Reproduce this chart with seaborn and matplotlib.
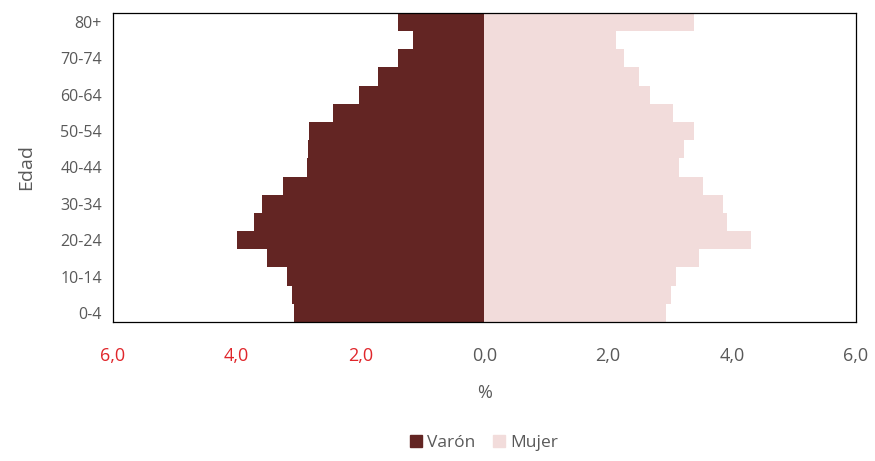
import matplotlib
matplotlib.use('Agg')
import matplotlib.pyplot as plt
import seaborn as sns
import pandas as pd

# Age groups, bottom to top
edades = ['0-4', '5-9', '10-14', '15-19', '20-24', '25-29', '30-34', '35-39',
          '40-44', '45-49', '50-54', '55-59', '60-64', '65-69', '70-74', '75-79', '80+']
varon = [3.08, 3.10, 3.18, 3.51, 3.99, 3.72, 3.59, 3.25,
         2.86, 2.85, 2.83, 2.45, 2.02, 1.71, 1.39, 1.15, 1.39]
mujer = [2.94, 3.02, 3.10, 3.47, 4.31, 3.92, 3.85, 3.54,
         3.15, 3.23, 3.39, 3.05, 2.67, 2.50, 2.26, 2.13, 3.39]
xticks = [-6, -4, -2, 0, 2, 4, 6]

df = pd.DataFrame({
    'Edad': edades * 2,
    'valor': [-v for v in varon] + mujer,
    'Sexo': ['Varón'] * len(edades) + ['Mujer'] * len(edades),
})

sns.set_style('white')
plt.rcParams['font.family'] = ['Open Sans', 'DejaVu Sans']

fig = plt.figure(figsize=(8.75, 4.61), dpi=100)
ax = fig.add_axes([0.129, 0.3015, 0.849, 0.6705])

sns.barplot(data=df, x='valor', y='Edad', hue='Sexo', order=edades[::-1],
            orient='h', dodge=False, width=1.0,
            palette={'Varón': '#632523', 'Mujer': '#F2DCDB'},
            saturation=1, linewidth=0, ax=ax, legend=False)

ax.set_xlim(-6, 6)
ax.set_xticks(xticks)
ax.set_xticklabels([f'{abs(t):.1f}'.replace('.', ',') for t in xticks], fontsize=13)
for lab, t in zip(ax.get_xticklabels(), xticks):
    lab.set_color('#E0262B' if t < 0 else '#595959')
ax.tick_params(axis='x', pad=18, length=0)

ylabels = [e if i % 2 == 0 else '' for i, e in enumerate(edades[::-1])]
ax.set_yticks(range(len(edades)))
ax.set_yticklabels(ylabels, fontsize=11.5, color='#595959')
ax.tick_params(axis='y', length=0, pad=8)

ax.set_xlabel('%', fontsize=13, color='#595959', labelpad=14)
ax.set_ylabel('Edad', fontsize=14, color='#595959', labelpad=18)

for s in ax.spines.values():
    s.set_visible(True)
    s.set_color('black')
    s.set_linewidth(0.9)

handles = [plt.Rectangle((0, 0), 1, 1, color='#632523'),
           plt.Rectangle((0, 0), 1, 1, color='#F2DCDB')]
fig.legend(handles, ['Varón', 'Mujer'], loc='lower center', ncol=2,
           bbox_to_anchor=(0.553, -0.012), frameon=False, fontsize=12.5,
           handlelength=0.7, handleheight=0.7, handletextpad=0.3,
           columnspacing=1.0, labelcolor='#595959')

fig.savefig('out.png', dpi=100)
